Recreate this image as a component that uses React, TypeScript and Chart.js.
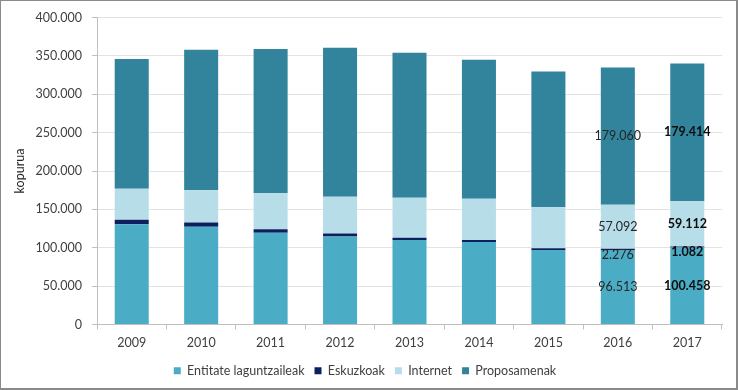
import React, { useEffect, useRef } from "react";
import { Chart, registerables } from "chart.js";

Chart.register(...registerables);

const years = ["2009", "2010", "2011", "2012", "2013", "2014", "2015", "2016", "2017"];
const entitateLaguntzaileak = [130500, 127500, 119500, 114500, 110000, 107500, 97000, 96513, 100458];
const eskuzkoak = [6000, 5500, 4500, 4000, 3000, 2500, 2500, 2276, 1082];
const internet = [40500, 42000, 47000, 48000, 52000, 54000, 53300, 57092, 59112];
const proposamenak = [169000, 183000, 188000, 194000, 189000, 181000, 177000, 179060, 179414];
const labelledYears = ["2016", "2017"];
const boldLabelYears = ["2017"];

const FONT = "Lato, 'Open Sans', sans-serif";

function fmt(v: number): string {
  const s = Math.round(v).toString();
  return s.replace(/\B(?=(\d{3})+(?!\d))/g, ".");
}

const dataLabelPlugin = {
  id: "segmentLabels",
  afterDatasetsDraw(chart: any) {
    const ctx = chart.ctx;
    ctx.save();
    ctx.textAlign = "center";
    ctx.textBaseline = "middle";
    chart.data.datasets.forEach((ds: any, di: number) => {
      const meta = chart.getDatasetMeta(di);
      meta.data.forEach((el: any, i: number) => {
        const year = chart.data.labels[i];
        if (!labelledYears.includes(year)) return;
        const bold = boldLabelYears.includes(year);
        const { x, y, base } = el.getProps(["x", "y", "base"], true);
        let cy = (y + base) / 2;
        if (Math.abs(base - y) < 8) cy += 5;
        ctx.font = (bold ? "bold " : "") + "12.5px " + FONT;
        ctx.fillStyle = bold ? "#0d0d0d" : "#262626";
        ctx.fillText(fmt(ds.data[i]), x, cy);
      });
    });
    ctx.restore();
  },
};

const legendShiftPlugin = {
  id: "legendShift",
  afterLayout(chart: any) {
    if (chart.legend) {
      chart.legend.left += 4;
      chart.legend.right += 4;
    }
  },
};

export default function App() {
  const ref = useRef<HTMLCanvasElement>(null);
  useEffect(() => {
    if (!ref.current) return;
    const chart = new Chart(ref.current, {
      type: "bar",
      data: {
        labels: years,
        datasets: [
          { label: "Entitate laguntzaileak", data: entitateLaguntzaileak, backgroundColor: "#4BACC6" },
          { label: "Eskuzkoak", data: eskuzkoak, backgroundColor: "#0C1F5E" },
          { label: "Internet", data: internet, backgroundColor: "#B7DEE8" },
          { label: "Proposamenak", data: proposamenak, backgroundColor: "#31849B" },
        ],
      },
      options: {
        animation: false,
        responsive: false,
        devicePixelRatio: 1,
        datasets: { bar: { categoryPercentage: 1, barPercentage: 0.49 } },
        layout: { padding: { left: 0, top: 15, right: 16, bottom: 3 } },
        scales: {
          x: {
            stacked: true,
            afterFit: (s: any) => { s.height = 30; },
            grid: { display: true, drawOnChartArea: false, offset: true, tickLength: 5, tickColor: "#BFBFBF" },
            border: { color: "#BFBFBF" },
            ticks: { color: "#404040", font: { family: FONT, size: 12.5 }, padding: 6 },
          },
          y: {
            stacked: true,
            min: 0,
            max: 400000,
            afterFit: (s: any) => { s.width = 97; },
            grid: { color: "#E3E3E3", tickLength: 5, tickColor: "#BFBFBF" },
            border: { color: "#BFBFBF" },
            ticks: {
              stepSize: 50000,
              color: "#404040",
              padding: 10,
              font: { family: FONT, size: 12.5 },
              callback: (v: any) => fmt(Number(v)),
            },
            title: {
              display: true,
              text: "kopurua",
              color: "#262626",
              font: { family: FONT, size: 12.5 },
              padding: { top: 12, bottom: 0 },
            },
          },
        },
        plugins: {
          legend: {
            position: "bottom",
            labels: {
              boxWidth: 7,
              boxHeight: 7,
              padding: 10,
              color: "#404040",
              font: { family: FONT, size: 12.5 },
            },
          },
          tooltip: { enabled: false },
        },
      },
      plugins: [dataLabelPlugin, legendShiftPlugin],
    });
    return () => chart.destroy();
  }, []);

  return (
    <div style={{ position: "absolute", left: 0, top: 0, width: 738, height: 390, background: "#fff" }}>
      <canvas ref={ref} width={738} height={390} style={{ display: "block", width: 738, height: 390 }} />
      <div
        style={{
          position: "absolute",
          left: 0,
          top: 0,
          width: 738,
          height: 390,
          boxSizing: "border-box",
          borderStyle: "solid",
          borderColor: "#8A8A8A",
          borderWidth: "1px 2px 2px 1px",
          pointerEvents: "none",
        }}
      />
    </div>
  );
}
